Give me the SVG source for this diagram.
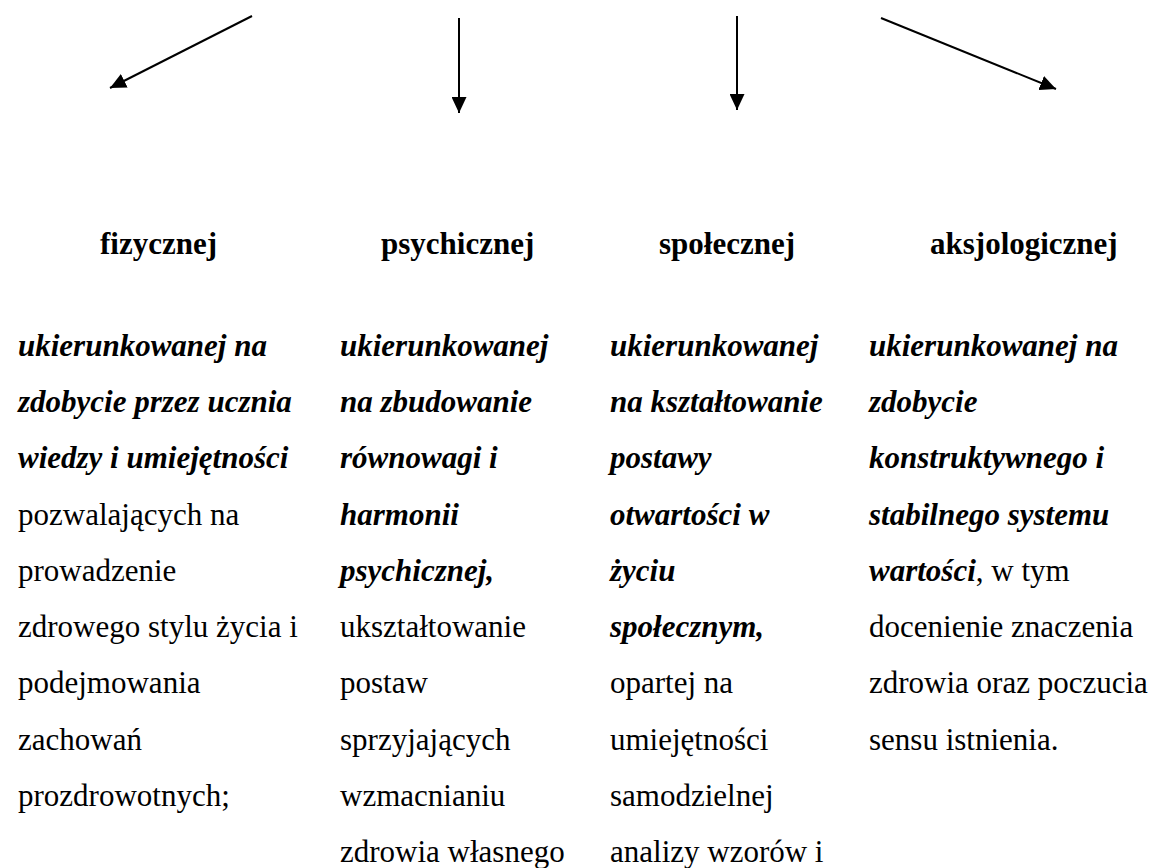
<svg xmlns="http://www.w3.org/2000/svg" width="1159" height="868" viewBox="0 0 1159 868">
  <style>
    text { font-family: "Liberation Serif", "Times New Roman", serif; font-size: 31px; fill: #000; }
    .h { font-weight: bold; }
    .bi { font-weight: bold; font-style: italic; }
    .r { font-weight: normal; font-style: normal; }
    .conn { stroke: #000; stroke-width: 2; fill: none; marker-end: url(#ah); }
  </style>
  <defs>
    <marker id="ah" markerUnits="userSpaceOnUse" markerWidth="16" markerHeight="15" refX="16" refY="7.5" orient="auto">
      <path d="M0,0 L16,7.5 L0,15 Z" fill="#000"/>
    </marker>
  </defs>
  <rect width="1159" height="868" fill="#fff"/>

  <g id="connectors">
    <line class="conn" x1="252" y1="16" x2="110" y2="88"/>
    <line class="conn" x1="459" y1="18" x2="459" y2="113"/>
    <line class="conn" x1="737" y1="16" x2="737" y2="110"/>
    <line class="conn" x1="881" y1="18" x2="1056" y2="89"/>
  </g>

  <g id="node-fizycznej">
    <text class="h" x="100" y="254">fizycznej</text>
    <text>
      <tspan class="bi" x="18" y="356">ukierunkowanej na</tspan>
      <tspan class="bi" x="18" y="412">zdobycie przez ucznia</tspan>
      <tspan class="bi" x="18" y="468">wiedzy i umiejętności</tspan>
      <tspan class="r" x="18" y="525">pozwalających na</tspan>
      <tspan class="r" x="18" y="581">prowadzenie</tspan>
      <tspan class="r" x="18" y="637">zdrowego stylu życia i</tspan>
      <tspan class="r" x="18" y="693">podejmowania</tspan>
      <tspan class="r" x="18" y="750">zachowań</tspan>
      <tspan class="r" x="18" y="806">prozdrowotnych;</tspan>
    </text>
  </g>

  <g id="node-psychicznej">
    <text class="h" x="381" y="254">psychicznej</text>
    <text>
      <tspan class="bi" x="340" y="356">ukierunkowanej</tspan>
      <tspan class="bi" x="340" y="412">na zbudowanie</tspan>
      <tspan class="bi" x="340" y="468">równowagi i</tspan>
      <tspan class="bi" x="340" y="525">harmonii</tspan>
      <tspan class="bi" x="340" y="581">psychicznej,</tspan>
      <tspan class="r" x="340" y="637">ukształtowanie</tspan>
      <tspan class="r" x="340" y="693">postaw</tspan>
      <tspan class="r" x="340" y="750">sprzyjających</tspan>
      <tspan class="r" x="340" y="806">wzmacnianiu</tspan>
      <tspan class="r" x="340" y="862">zdrowia własnego</tspan>
    </text>
  </g>

  <g id="node-spolecznej">
    <text class="h" x="659" y="254">społecznej</text>
    <text>
      <tspan class="bi" x="610" y="356">ukierunkowanej</tspan>
      <tspan class="bi" x="610" y="412">na kształtowanie</tspan>
      <tspan class="bi" x="610" y="468">postawy</tspan>
      <tspan class="bi" x="610" y="525">otwartości w</tspan>
      <tspan class="bi" x="610" y="581">życiu</tspan>
      <tspan class="bi" x="610" y="637">społecznym,</tspan>
      <tspan class="r" x="610" y="693">opartej na</tspan>
      <tspan class="r" x="610" y="750">umiejętności</tspan>
      <tspan class="r" x="610" y="806">samodzielnej</tspan>
      <tspan class="r" x="610" y="862">analizy wzorów i</tspan>
    </text>
  </g>

  <g id="node-aksjologicznej">
    <text class="h" x="930" y="254">aksjologicznej</text>
    <text>
      <tspan class="bi" x="869" y="356">ukierunkowanej na</tspan>
      <tspan class="bi" x="869" y="412">zdobycie</tspan>
      <tspan class="bi" x="869" y="468">konstruktywnego i</tspan>
      <tspan class="bi" x="869" y="525">stabilnego systemu</tspan>
      <tspan class="bi" x="869" y="581">wartości</tspan><tspan class="r">, w tym</tspan>
      <tspan class="r" x="869" y="637">docenienie znaczenia</tspan>
      <tspan class="r" x="869" y="693">zdrowia oraz poczucia</tspan>
      <tspan class="r" x="869" y="750">sensu istnienia.</tspan>
    </text>
  </g>
</svg>
